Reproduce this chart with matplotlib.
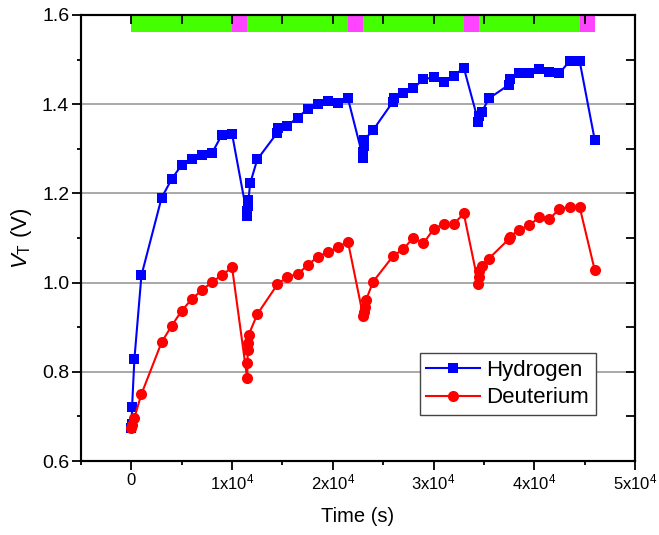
import matplotlib
matplotlib.use("Agg")
import matplotlib.pyplot as plt
from matplotlib.ticker import MultipleLocator, FuncFormatter, NullFormatter, NullLocator

plt.rcParams['font.family'] = ['Liberation Sans', 'DejaVu Sans']
plt.rcParams['mathtext.fontset'] = 'custom'
plt.rcParams['mathtext.rm'] = 'Liberation Sans'
plt.rcParams['mathtext.it'] = 'Liberation Sans:italic'

# ---- data ----
h_time = [0, 30, 70, 300, 1000, 3000, 4000, 5000, 6000, 7000, 8000, 9000, 10000,
          11500, 11530, 11570, 11620, 11800, 12500, 14450, 14550, 15500, 16500, 17500,
          18500, 19500, 20500, 21500,
          23000, 23030, 23070, 23120, 24000, 25950, 26050, 27000, 28000, 29000, 30000,
          31000, 32000, 33000,
          34450, 34500, 34800, 35500, 37450, 37550, 38500, 39500, 40500, 41500, 42500,
          43500, 44500, 46000]
h_vt = [0.673, 0.684, 0.720, 0.828, 1.016, 1.190, 1.232, 1.264, 1.276, 1.286, 1.290, 1.332, 1.333,
        1.150, 1.160, 1.172, 1.185, 1.223, 1.276, 1.335, 1.346, 1.352, 1.370, 1.389,
        1.400, 1.408, 1.403, 1.413,
        1.280, 1.293, 1.306, 1.320, 1.342, 1.405, 1.413, 1.425, 1.436, 1.456, 1.460,
        1.450, 1.463, 1.482,
        1.361, 1.374, 1.383, 1.413, 1.443, 1.456, 1.469, 1.471, 1.478, 1.473, 1.469,
        1.497, 1.497, 1.320]

d_time = [0, 50, 300, 1000, 3000, 4000, 5000, 6000, 7000, 8000, 9000, 10000,
          11500, 11530, 11560, 11600, 11650, 12500, 14500, 15500, 16500, 17500, 18500,
          19500, 20500, 21500,
          23000, 23050, 23150, 23300, 24000, 26000, 27000, 28000, 29000, 30000, 31000,
          32000, 33000,
          34450, 34500, 34550, 34800, 35500, 37450, 37550, 38500, 39500, 40500, 41500,
          42500, 43500, 44500, 46000]
d_vt = [0.673, 0.681, 0.697, 0.750, 0.866, 0.903, 0.937, 0.963, 0.983, 1.001, 1.017, 1.034,
        0.785, 0.820, 0.849, 0.864, 0.883, 0.929, 0.996, 1.013, 1.019, 1.039, 1.058,
        1.068, 1.079, 1.092,
        0.926, 0.935, 0.945, 0.961, 1.002, 1.060, 1.075, 1.101, 1.088, 1.120, 1.131,
        1.131, 1.155,
        0.997, 1.012, 1.026, 1.037, 1.054, 1.097, 1.103, 1.118, 1.129, 1.146, 1.142,
        1.166, 1.169, 1.170, 1.028]

phase_start = [0, 10000, 11500, 21500, 23000, 33000, 34500, 44500]
phase_end = [10000, 11500, 21500, 23000, 33000, 34500, 44500, 46000]
phase_color = ['#44FF00', '#FF44FF', '#44FF00', '#FF44FF',
               '#44FF00', '#FF44FF', '#44FF00', '#FF44FF']

# ---- figure ----
fig = plt.figure(figsize=(6.59, 5.35), dpi=100)
ax = fig.add_axes([0.1229, 0.1383, 0.8407, 0.8337])

XLIM = (-5000, 50000)
YLIM = (0.6, 1.6)
ax.set_xlim(*XLIM)
ax.set_ylim(*YLIM)

for yv in [0.8, 1.0, 1.2, 1.4]:
    ax.axhline(yv, color='#999999', lw=1.2, zorder=0)

ax.broken_barh([(s, e - s) for s, e in zip(phase_start, phase_end)], (1.562, 0.038),
               facecolors=phase_color, edgecolor='none', zorder=1)

ax.plot(h_time, h_vt, color='#0000FF', marker='s', ms=7.5, lw=1.5,
        markeredgewidth=0, label='Hydrogen', zorder=3)
ax.plot(d_time, d_vt, color='#FF0000', marker='o', ms=8, lw=1.5,
        markeredgewidth=0, label='Deuterium', zorder=3)

ax.xaxis.set_major_locator(MultipleLocator(10000))
ax.xaxis.set_minor_locator(MultipleLocator(5000))
ax.yaxis.set_major_locator(MultipleLocator(0.2))
ax.yaxis.set_minor_locator(MultipleLocator(0.1))


def xfmt(v, pos):
    n = int(round(v / 10000))
    if n == 0:
        return '0'
    return r'%dx10$^{4}$' % n


ax.xaxis.set_major_formatter(FuncFormatter(xfmt))
ax.yaxis.set_major_formatter(FuncFormatter(lambda v, p: '%.1f' % v))

ax.tick_params(axis='both', which='major', direction='out', length=6.5, width=1.3,
               top=False, right=False)
ax.tick_params(axis='both', which='minor', direction='out', length=3, width=1.3,
               top=False, right=False)
ax.tick_params(axis='x', which='major', labelsize=12, pad=2)
ax.tick_params(axis='y', which='major', labelsize=14, pad=2)

for sp in ax.spines.values():
    sp.set_linewidth(1.5)

# overlay axes for inward top and right ticks (drawn above the phase bar)
ov = fig.add_axes(ax.get_position(), facecolor='none')
ov.set_xlim(*XLIM)
ov.set_ylim(*YLIM)
ov.xaxis.set_major_locator(MultipleLocator(5000))
ov.xaxis.set_minor_locator(NullLocator())
ov.yaxis.set_major_locator(MultipleLocator(0.1))
ov.yaxis.set_minor_locator(NullLocator())
ov.tick_params(axis='both', which='major', direction='in', length=6.5, width=1.3,
               top=True, right=True, bottom=False, left=False,
               labelbottom=False, labelleft=False, labeltop=False, labelright=False)
for sp in ov.spines.values():
    sp.set_linewidth(1.5)

ax.set_xlabel('Time (s)', fontsize=14.5, labelpad=10)
ax.set_ylabel(r'$\mathit{V}_{\mathrm{T}}$ (V)', fontsize=16, labelpad=6)

leg = ax.legend(loc='lower right', bbox_to_anchor=(0.929, 0.103), fontsize=16,
                frameon=True, fancybox=False, edgecolor='#444444', framealpha=1,
                handlelength=2.4, handletextpad=0.3, borderpad=0.3, labelspacing=0.3,
                borderaxespad=0)
leg.get_frame().set_linewidth(1.0)

fig.savefig('out.png', dpi=100)
